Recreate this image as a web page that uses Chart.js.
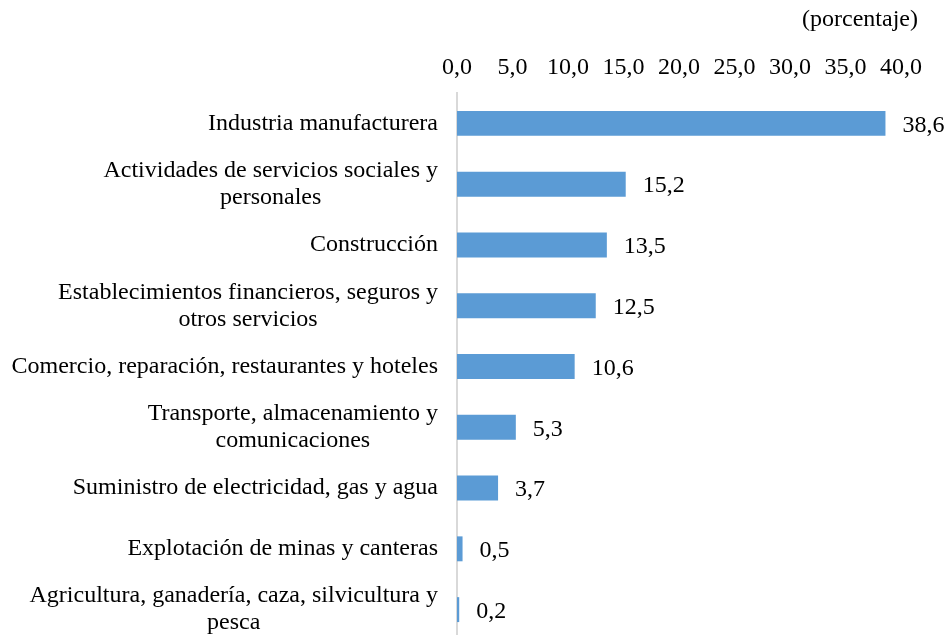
<!DOCTYPE html>
<html>
<head>
<meta charset="utf-8">
<script src="https://cdn.jsdelivr.net/npm/chart.js@4/dist/chart.umd.min.js"></script>
<style>
  html, body { margin: 0; padding: 0; background: #fff; overflow: hidden; }
  #wrap { position: relative; width: 946px; height: 640px; }
</style>
</head>
<body>
<div id="wrap"><canvas id="chart"></canvas></div>
<script>
// Datos del gráfico
const categories = [
    ['Industria manufacturera'],
    ['Actividades de servicios sociales y', 'personales'],
    ['Construcción'],
    ['Establecimientos financieros, seguros y', 'otros servicios'],
    ['Comercio, reparación, restaurantes y hoteles'],
    ['Transporte, almacenamiento y', 'comunicaciones'],
    ['Suministro de electricidad, gas y agua'],
    ['Explotación de minas y canteras'],
    ['Agricultura, ganadería, caza, silvicultura y', 'pesca']
];
const shares = [38.6, 15.2, 13.5, 12.5, 10.6, 5.3, 3.7, 0.5, 0.2];
const xTicks = [0, 5, 10, 15, 20, 25, 30, 35, 40];
const unitLabel = '(porcentaje)';

const FONT = '"Liberation Serif", "Times New Roman", serif';
const FONT_SIZE = 24;

function fmt(v, d) {
    return v.toFixed(d).replace('.', ',');
}

// Etiquetas de categoría, valores y unidad
const labelsPlugin = {
    id: 'labelsPlugin',
    afterDraw(chart) {
        const ctx = chart.ctx;
        const yScale = chart.scales.y;
        const area = chart.chartArea;
        ctx.save();
        ctx.font = FONT_SIZE + 'px ' + FONT;
        ctx.fillStyle = '#000';
        ctx.textBaseline = 'middle';

        // category labels: block right aligned, lines centered in block
        const right = area.left - 19;
        const lineH = 27;
        categories.forEach((lines, i) => {
            const cy = yScale.getPixelForValue(i);
            const widths = lines.map(l => ctx.measureText(l).width);
            const blockW = Math.max(...widths);
            const top = cy - (lines.length - 1) * lineH / 2;
            lines.forEach((l, j) => {
                ctx.textAlign = 'center';
                ctx.fillText(l, right - blockW / 2, top + j * lineH);
            });
        });

        // value labels
        const meta = chart.getDatasetMeta(0);
        ctx.textAlign = 'left';
        meta.data.forEach((bar, i) => {
            ctx.fillText(fmt(shares[i], 1), bar.x + 17, bar.y + 2);
        });

        // unit
        ctx.textAlign = 'right';
        ctx.fillText(unitLabel, area.right + 17, 20);
        ctx.restore();
    }
};

const ctx = document.getElementById('chart').getContext('2d');
new Chart(ctx, {
    type: 'bar',
    data: {
        labels: categories,
        datasets: [{
            data: shares,
            backgroundColor: '#5B9BD5',
            borderWidth: 0,
            barPercentage: 0.41,
            categoryPercentage: 1.0
        }]
    },
    options: {
        indexAxis: 'y',
        responsive: true,
        maintainAspectRatio: false,
        animation: false,
        layout: { padding: { left: 0, right: 45, top: 0, bottom: 0 } },
        plugins: {
            legend: { display: false },
            tooltip: { enabled: false }
        },
        scales: {
            x: {
                position: 'top',
                min: 0,
                max: 40,
                afterBuildTicks: scale => {
                    scale.ticks = xTicks.map(v => ({ value: v }));
                },
                afterFit: scale => { scale.height = 93; },
                grid: { display: false, drawTicks: false },
                border: { display: false },
                ticks: {
                    padding: 11,
                    color: '#000',
                    font: { family: FONT, size: FONT_SIZE },
                    callback: v => fmt(v, 1)
                }
            },
            y: {
                afterFit: scale => { scale.width = 457; },
                grid: { display: false, drawTicks: false },
                border: { display: true, color: '#D9D9D9', width: 2 },
                ticks: { display: false }
            }
        }
    },
    plugins: [labelsPlugin]
});
</script>
</body>
</html>
